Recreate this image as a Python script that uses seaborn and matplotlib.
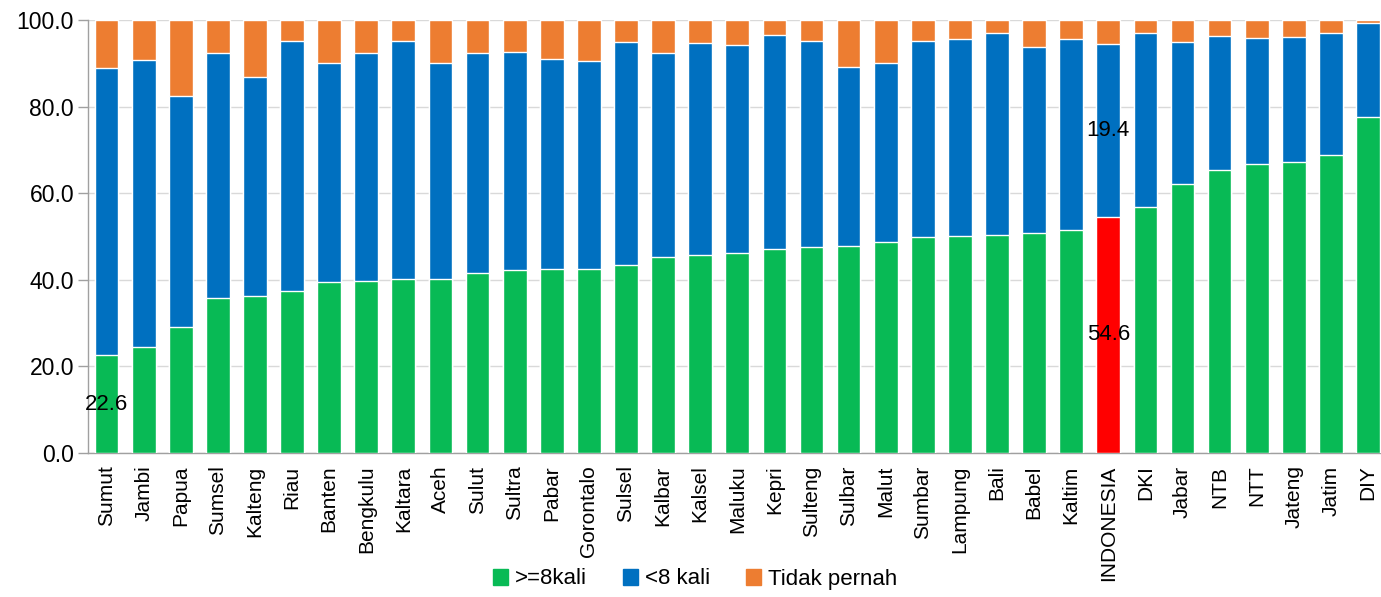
import matplotlib
matplotlib.use("Agg")
import matplotlib.pyplot as plt
from matplotlib.patches import Patch
import numpy as np
import seaborn as sns

# values (percent)
regions = ["Sumut", "Jambi", "Papua", "Sumsel", "Kalteng", "Riau", "Banten", "Bengkulu",
           "Kaltara", "Aceh", "Sulut", "Sultra", "Pabar", "Gorontalo", "Sulsel", "Kalbar",
           "Kalsel", "Maluku", "Kepri", "Sulteng", "Sulbar", "Malut", "Sumbar", "Lampung",
           "Bali", "Babel", "Kaltim", "INDONESIA", "DKI", "Jabar", "NTB", "NTT", "Jateng",
           "Jatim", "DIY"]
lebih_8 = [22.6, 24.5, 29.2, 35.8, 36.2, 37.3, 39.4, 39.8, 40.1, 40.3, 41.6, 42.2, 42.4,
           42.6, 43.5, 45.2, 45.8, 46.1, 47.2, 47.5, 47.7, 48.8, 49.8, 50.2, 50.3, 50.9,
           51.4, 54.6, 56.9, 62.1, 65.4, 66.7, 67.1, 68.9, 77.5]
kurang_8 = [66.4, 66.3, 53.2, 56.5, 50.6, 57.8, 50.7, 52.6, 55.0, 49.8, 50.8, 50.4, 48.7,
            48.0, 51.4, 47.2, 49.0, 48.2, 49.4, 47.6, 41.4, 41.3, 45.3, 45.5, 46.8, 42.9,
            44.3, 39.9, 40.0, 32.8, 31.0, 29.1, 29.0, 28.2, 21.9]
tidak_pernah = [11.0, 9.2, 17.6, 7.7, 13.2, 4.9, 9.9, 7.6, 4.9, 9.9, 7.6, 7.4, 8.9, 9.4,
                5.1, 7.6, 5.2, 5.7, 3.4, 4.9, 10.9, 9.9, 4.9, 4.3, 2.9, 6.2, 4.3, 5.5, 3.1,
                5.1, 3.6, 4.2, 3.9, 2.9, 0.6]

# data labels shown on the chart
label_green = {"Sumut": "22.6", "INDONESIA": "54.6"}
label_blue = {"INDONESIA": "19.4"}

c_green = "#08BA55"
c_blue = "#0070C0"
c_orange = "#ED7D31"
c_red = "#FF0000"

green = np.array(lebih_8)
blue_top = green + np.array(kurang_8)
total = blue_top + np.array(tidak_pernah)

sns.set_style("white")
plt.rcParams["font.family"] = ["Liberation Sans", "DejaVu Sans"]
plt.rcParams["text.color"] = "black"
plt.rcParams["xtick.labelcolor"] = "black"
plt.rcParams["ytick.labelcolor"] = "black"

fig = plt.figure(figsize=(13.81, 5.97), dpi=100)
ax = fig.add_axes([88 / 1381, 1 - 453 / 597, 1 - 88 / 1381, (453 - 20) / 597])

# stacked bars drawn as overlapping cumulative layers
sns.barplot(x=regions, y=total, color=c_orange, width=0.64, saturation=1, ax=ax, zorder=2)
sns.barplot(x=regions, y=blue_top, color=c_blue, width=0.64, saturation=1, ax=ax, zorder=3)
sns.barplot(x=regions, y=green, color=c_green, width=0.64, saturation=1, ax=ax, zorder=4)

n = len(regions)
idx_ind = regions.index("INDONESIA")
ax.patches[2 * n + idx_ind].set_facecolor(c_red)

for name, txt in label_green.items():
    i = regions.index(name)
    ax.text(i, green[i] / 2, txt, ha="center", va="center", fontsize=16, zorder=6)
for name, txt in label_blue.items():
    i = regions.index(name)
    ax.text(i, (green[i] + blue_top[i]) / 2, txt, ha="center", va="center",
            fontsize=16, zorder=6)

ax.set_ylim(0, 100)
ax.set_xlim(-0.5, n - 0.65)
ax.set_yticks(np.arange(0, 101, 20))
ax.set_yticklabels([f"{v:.1f}" for v in np.arange(0, 101, 20)], fontsize=16.5)
ax.tick_params(axis="x", labelrotation=90, labelsize=15, length=0, pad=9)
ax.tick_params(axis="y", length=7, color="#A0A0A0", width=1, pad=3, left=True)
ax.yaxis.grid(True, color="#D9D9D9", linewidth=1, zorder=0)
ax.set_axisbelow(True)
ax.set_xlabel("")
for side in ["top", "right"]:
    ax.spines[side].set_visible(False)
for side in ["left", "bottom"]:
    ax.spines[side].set_color("#A0A0A0")
    ax.spines[side].set_linewidth(1)

handles = [Patch(color=c_green, label=">=8kali"),
           Patch(color=c_blue, label="<8 kali"),
           Patch(color=c_orange, label="Tidak pernah")]
fig.legend(handles=handles, loc="center", bbox_to_anchor=(695 / 1381, 1 - 579 / 597),
           ncol=3, frameon=False, fontsize=16,
           handlelength=0.7, handleheight=0.7, handletextpad=0.3, columnspacing=1.6)

fig.savefig("out.png", dpi=100)
